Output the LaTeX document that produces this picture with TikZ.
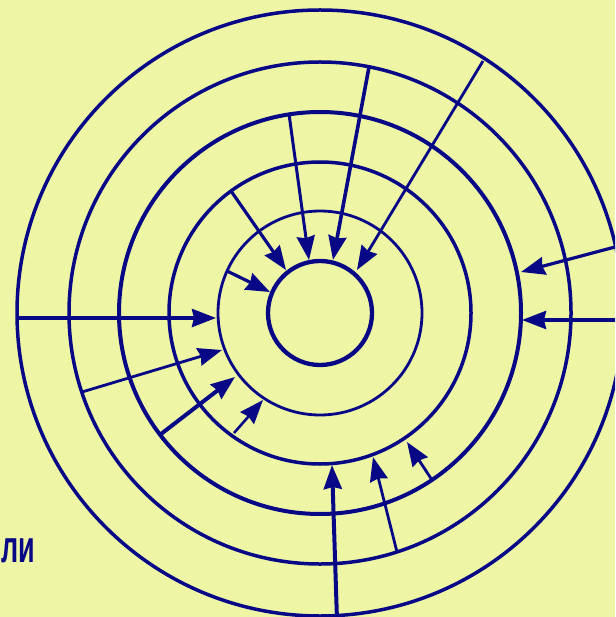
\documentclass[tikz,border=0pt]{standalone}
\usepackage{fontspec}
\newfontfamily\labelfont{Liberation Sans}
\usetikzlibrary{arrows.meta}
\definecolor{bgc}{RGB}{238,246,166}
\definecolor{ink}{RGB}{8,8,135}
\tikzset{
  ring/.style={draw=ink},
  spoke/.style={draw=ink, -{Stealth[length=24pt,width=18pt,inset=2pt]}},
}
\begin{document}
\begin{tikzpicture}[x=1pt,y=-1pt]
\fill[bgc] (0,0) rectangle (615,617);
\useasboundingbox (0,0) rectangle (615,617);
\clip (0,0) rectangle (615,617);
\coordinate (c) at (320,313);
% rings
\draw[ring, line width=4.3pt] (c) circle[radius=52pt];
\draw[ring, line width=2.8pt] (c) circle[radius=102pt];
\draw[ring, line width=3.5pt] (c) circle[radius=151pt];
\draw[ring, line width=4.0pt] (c) circle[radius=201pt];
\draw[ring, line width=3.5pt] (c) circle[radius=251pt];
\draw[ring, line width=3.5pt] (c) circle[radius=303pt];
% spoke end points
\coordinate (s1) at (17,318);  \coordinate (t1) at (216,318);
\coordinate (s2) at (82,392);  \coordinate (t2) at (222,350);
\coordinate (s3) at (161,434); \coordinate (t3) at (235,377);
\coordinate (s4) at (234,433); \coordinate (t4) at (263,400);
\coordinate (s5) at (337,620); \coordinate (t5) at (332,465);
\coordinate (s6) at (397,552); \coordinate (t6) at (373,457);
\coordinate (s7) at (432,480); \coordinate (t7) at (407,442);
\coordinate (s8) at (620,320); \coordinate (t8) at (522,320);
\coordinate (s9) at (615,247); \coordinate (t9) at (521,272);
\coordinate (s10) at (483,61); \coordinate (t10) at (357,270);
\coordinate (s11) at (369,67); \coordinate (t11) at (333,260);
\coordinate (s12) at (289,114); \coordinate (t12) at (309,260);
\coordinate (s13) at (231,191); \coordinate (t13) at (286,270);
\coordinate (s14) at (227,271); \coordinate (t14) at (270,292);
% spokes
\draw[spoke, line width=3.8pt] (s1) -- (t1);
\draw[spoke, line width=2.8pt] (s2) -- (t2);
\draw[spoke, line width=4.0pt] (s3) -- (t3);
\draw[spoke, line width=2.6pt] (s4) -- (t4);
\draw[spoke, line width=4.0pt] (s5) -- (t5);
\draw[spoke, line width=2.8pt] (s6) -- (t6);
\draw[spoke, line width=2.8pt] (s7) -- (t7);
\draw[spoke, line width=3.6pt] (s8) -- (t8);
\draw[spoke, line width=3.2pt] (s9) -- (t9);
\draw[spoke, line width=2.8pt] (s10) -- (t10);
\draw[spoke, line width=3.6pt] (s11) -- (t11);
\draw[spoke, line width=3.0pt] (s12) -- (t12);
\draw[spoke, line width=3.2pt] (s13) -- (t13);
\draw[spoke, line width=3.2pt] (s14) -- (t14);
% text
\node[anchor=base west, inner sep=0pt, text=ink] (txt) at (1,562)
  {\scalebox{0.6}[1]{\labelfont\fontsize{45}{45}\selectfont\bfseries ли}};
\end{tikzpicture}
\end{document}
